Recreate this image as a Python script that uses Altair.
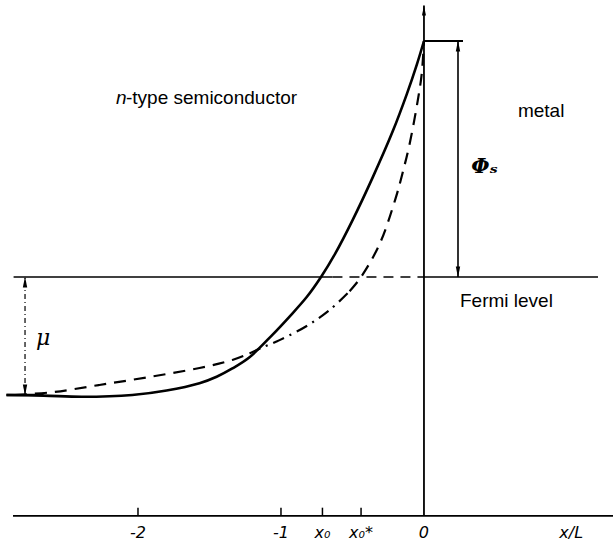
import altair as alt
import pandas as pd

# ---- data (x in units of L, energy in units of mu, Fermi level = 0)
solid_x = [-2.92, -2.66, -2.39, -2.04, -1.80, -1.57, -1.45, -1.34, -1.22, -1.06, -0.94, -0.82,
           -0.72, -0.62, -0.50, -0.36, -0.22, -0.12, -0.05, 0.0]
solid_y = [-1.0, -1.005, -1.015, -1.0, -0.962, -0.90, -0.845, -0.775, -0.68, -0.49, -0.335, -0.17,
           0.0, 0.20, 0.48, 0.84, 1.23, 1.55, 1.80, 2.0]

dashed_x = [-2.86, -2.59, -2.27, -1.92, -1.57, -1.34, -1.22, -1.15, -1.01, -0.82, -0.66,
            -0.52, -0.44, -0.31, -0.20, -0.15, -0.10, -0.04, -0.015, 0.0]
dashed_y = [-1.0, -0.975, -0.915, -0.847, -0.771, -0.703, -0.648, -0.608, -0.535, -0.415, -0.28,
            -0.12, 0.0, 0.28, 0.66, 0.88, 1.13, 1.52, 1.73, 2.0]
dashdot_range = [-1.22, -0.52]

tick_values = [-2, -1, -0.71, -0.44]
tick_labels = ["-2", "-1", "x₀", "x₀*"]
zero_value = [0]
zero_label = ["0"]
axis_label = "x/L"

fermi = 0.0
mu = 1.0
phi_s = 2.0
x_axis_level = -2.025

XS = alt.Scale(domain=[-2.965, 1.322], nice=False, zero=False)
YS = alt.Scale(domain=[-2.3136, 2.3475], nice=False, zero=False)


def X(f="x"):
    return alt.X(f + ":Q", scale=XS, axis=None)


def Y(f="y"):
    return alt.Y(f + ":Q", scale=YS, axis=None)


def hrule(x1, x2, y, **kw):
    return alt.Chart(pd.DataFrame({"x": [x1], "x2": [x2], "y": [y]})).mark_rule(
        color="black", **kw).encode(x=X(), x2="x2:Q", y=Y())


def vrule(x, y1, y2, **kw):
    return alt.Chart(pd.DataFrame({"x": [x], "y": [y1], "y2": [y2]})).mark_rule(
        color="black", **kw).encode(x=X(), y=Y(), y2="y2:Q")


UP = "M0,-1L-0.4,1L0.4,1Z"
DOWN = "M0,1L-0.4,-1L0.4,-1Z"


def arrow(xs, ys, up=True, size=120):
    return alt.Chart(pd.DataFrame({"x": xs, "y": ys})).mark_point(
        shape=UP if up else DOWN, filled=True, color="black", opacity=1,
        size=size, strokeWidth=0, yOffset=5 if up else -5).encode(x=X(), y=Y())


def text(t, x, y, size=19, style="normal", align="left", baseline="alphabetic",
         font="Liberation Sans", weight="normal"):
    return alt.Chart(pd.DataFrame({"x": [x], "y": [y], "t": [t]})).mark_text(
        align=align, baseline=baseline, fontSize=size, fontStyle=style, font=font,
        fontWeight=weight, color="black").encode(x=X(), y=Y(), text="t:N")


# ---- curves
solid_df = pd.DataFrame({"x": solid_x, "y": solid_y})
solid = alt.Chart(solid_df).mark_line(color="black", strokeWidth=2.6,
                                      interpolate="catmull-rom").encode(x=X(), y=Y())

rows = []
seg = 0
prev_style = None
for xv, yv in zip(dashed_x, dashed_y):
    style = "dashdot" if dashdot_range[0] < xv <= dashdot_range[1] + 1e-9 else "dash"
    if prev_style is not None and style != prev_style:
        seg += 1
        rows.append({"x": rows[-1]["x"], "y": rows[-1]["y"], "seg": seg, "style": style})
    rows.append({"x": xv, "y": yv, "seg": seg, "style": style})
    prev_style = style
dashed_df = pd.DataFrame(rows)
dashed = alt.Chart(dashed_df).mark_line(color="black", strokeWidth=2.2,
                                        interpolate="catmull-rom").encode(
    x=X(), y=Y(), detail="seg:N",
    strokeDash=alt.StrokeDash("style:N", legend=None,
                              scale=alt.Scale(domain=["dash", "dashdot"],
                                              range=[[12, 8], [12, 6, 2, 6]])))

# ---- axes
x_axis = hrule(-2.874, 1.33, x_axis_level, strokeWidth=1.8)
y_axis = vrule(0, x_axis_level, 2.30, strokeWidth=1.8)
y_arrow = arrow([0], [2.30], up=True, size=100)

tick_df = pd.DataFrame({"x": tick_values, "y": [x_axis_level] * len(tick_values),
                        "y2": [x_axis_level + 0.07] * len(tick_values),
                        "t": tick_labels})
ticks = alt.Chart(tick_df).mark_rule(color="black", strokeWidth=1.5).encode(
    x=X(), y=Y(), y2="y2:Q")
tick_text = alt.Chart(tick_df).mark_text(fontSize=16, fontStyle="italic", font="DejaVu Sans",
                                         baseline="middle", align="center", color="black").encode(
    x=X(), y=alt.Y("ty:Q", scale=YS, axis=None), text="t:N").transform_calculate(ty="-2.17")
zero_df = pd.DataFrame({"x": zero_value, "t": zero_label})
zero_text = alt.Chart(zero_df).mark_text(fontSize=16, fontStyle="italic", font="DejaVu Sans",
                                         baseline="middle", align="center", color="black").encode(
    x=X(), y=alt.Y("ty:Q", scale=YS, axis=None), text="t:N").transform_calculate(ty="-2.17")
axis_text = text(axis_label, 1.03, -2.17, size=16, style="italic", align="center",
                 baseline="middle", font="DejaVu Sans")

# ---- Fermi level
fermi_a = hrule(-2.87, -0.64, fermi, strokeWidth=1.6)
fermi_b = hrule(-0.64, 0.0, fermi, strokeWidth=1.6, strokeDash=[10, 7])
fermi_c = hrule(0.0, 1.217, fermi, strokeWidth=1.6)

# ---- mu arrow
mu_x = -2.79
mu_line = vrule(mu_x, fermi - mu, fermi, strokeWidth=1.2, strokeDash=[5, 3, 1, 3])
mu_up = arrow([mu_x], [fermi], up=True)
mu_down = arrow([mu_x], [fermi - mu], up=False)
bottom_tick = hrule(-2.92, -2.66, fermi - mu, strokeWidth=2.6)

# ---- phi_s arrow
phi_x = 0.238
top_bar = hrule(0.0, 0.273, phi_s, strokeWidth=2)
phi_line = vrule(phi_x, fermi, phi_s, strokeWidth=1.6)
phi_up = arrow([phi_x], [phi_s], up=True)
phi_down = arrow([phi_x], [fermi], up=False)

# ---- labels
lab_n = text("n", -2.154, 1.466, style="italic")
lab_semi = text("-type semiconductor", -2.084, 1.466)
lab_metal = text("metal", 0.657, 1.356)
lab_fermi = text("Fermi level", 0.252, -0.254)
lab_mu = text("μ", -2.664, -0.52, size=22, style="italic", align="center", baseline="middle",
              font="DejaVu Serif")
lab_phi = text("Φₛ", 0.33, 0.93, size=21, style="italic", baseline="middle",
               font="DejaVu Serif", weight="bold")

chart = alt.layer(
    x_axis, y_axis, y_arrow, ticks, tick_text, zero_text, axis_text,
    fermi_a, fermi_b, fermi_c,
    mu_line, mu_up, mu_down, bottom_tick,
    top_bar, phi_line, phi_up, phi_down,
    solid, dashed,
    lab_n, lab_semi, lab_metal, lab_fermi, lab_mu, lab_phi,
).properties(
    width=613, height=550, padding=0,
    autosize=alt.AutoSizeParams(type="none"),
).configure_view(stroke=None)

chart.save("out.html", embed_options={"renderer": "svg", "actions": False})
